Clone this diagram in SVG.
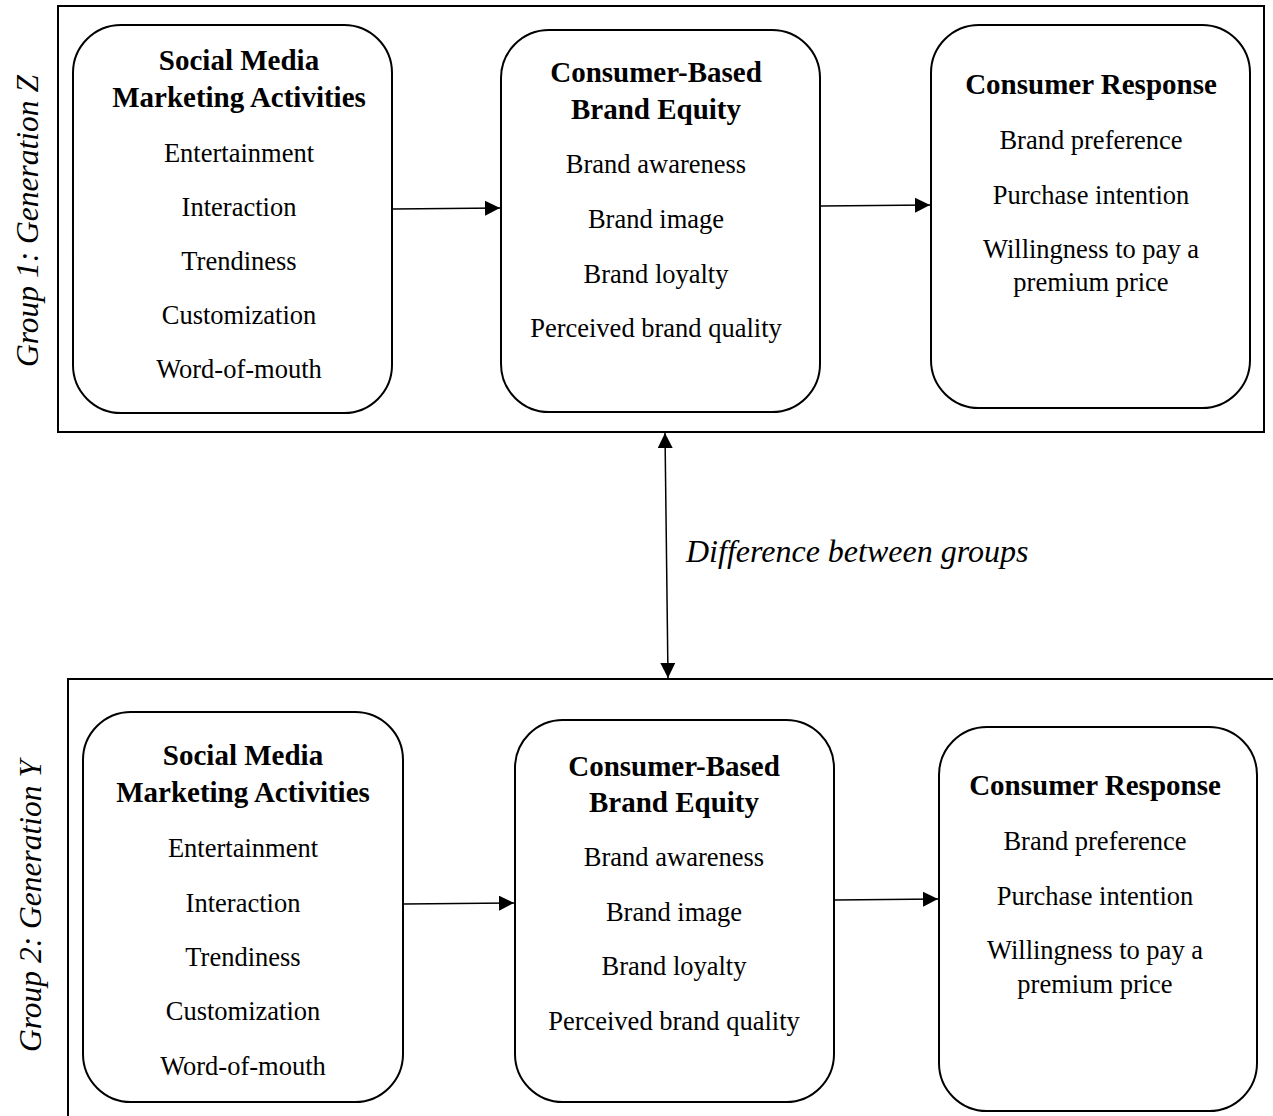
<svg xmlns="http://www.w3.org/2000/svg" width="1273" height="1116" viewBox="0 0 1273 1116">
<style>
  .frame { fill: none; stroke: #000; stroke-width: 2; }
  .box { fill: #fff; stroke: #000; stroke-width: 2; }
  .conn { fill: none; stroke: #000; stroke-width: 1.5; }
  text { font-family: "Liberation Serif", "Times New Roman", serif; fill: #000; text-anchor: middle; }
  .h { font-size: 29px; font-weight: bold; }
  .t { font-size: 26.5px; }
  .side { font-size: 31.5px; font-style: italic; }
  .lbl { font-size: 32px; font-style: italic; text-anchor: start; }
</style>
<defs>
  <marker id="ah" markerUnits="userSpaceOnUse" markerWidth="16" markerHeight="16" refX="15" refY="7.5" orient="auto-start-reverse">
    <path d="M0,0 L15,7.5 L0,15 z" fill="#000"/>
  </marker>
</defs>
<rect fill="#fff" x="0" y="0" width="1273" height="1116"/>

<g id="group1">
  <rect class="frame" x="58" y="6" width="1206" height="426"/>
  <text class="side" transform="translate(38,221) rotate(-90)">Group 1: Generation Z</text>
</g>
<g id="group2">
  <path class="frame" d="M1273,679 H68 V1116"/>
  <text class="side" transform="translate(41,906) rotate(-90)">Group 2: Generation Y</text>
</g>

<g id="smma1">
  <rect class="box" x="73" y="25" width="319" height="388" rx="48" ry="48"/>
  <text class="h" x="239" y="70">Social Media</text>
  <text class="h" x="239" y="107">Marketing Activities</text>
  <text class="t" x="239" y="162">Entertainment</text>
  <text class="t" x="239" y="216">Interaction</text>
  <text class="t" x="239" y="270">Trendiness</text>
  <text class="t" x="239" y="324">Customization</text>
  <text class="t" x="239" y="378">Word-of-mouth</text>
</g>
<g id="cbbe1">
  <rect class="box" x="501" y="30" width="319" height="382" rx="48" ry="48"/>
  <text class="h" x="656" y="82">Consumer-Based</text>
  <text class="h" x="656" y="119">Brand Equity</text>
  <text class="t" x="656" y="173">Brand awareness</text>
  <text class="t" x="656" y="228">Brand image</text>
  <text class="t" x="656" y="283">Brand loyalty</text>
  <text class="t" x="656" y="337">Perceived brand quality</text>
</g>
<g id="cr1">
  <rect class="box" x="931" y="25" width="319" height="383" rx="48" ry="48"/>
  <text class="h" x="1091" y="94">Consumer Response</text>
  <text class="t" x="1091" y="149">Brand preference</text>
  <text class="t" x="1091" y="204">Purchase intention</text>
  <text class="t" x="1091" y="258">Willingness to pay a</text>
  <text class="t" x="1091" y="291">premium price</text>
</g>

<g id="smma2">
  <rect class="box" x="83" y="712" width="320" height="390" rx="48" ry="48"/>
  <text class="h" x="243" y="765">Social Media</text>
  <text class="h" x="243" y="802">Marketing Activities</text>
  <text class="t" x="243" y="857">Entertainment</text>
  <text class="t" x="243" y="912">Interaction</text>
  <text class="t" x="243" y="966">Trendiness</text>
  <text class="t" x="243" y="1020">Customization</text>
  <text class="t" x="243" y="1075">Word-of-mouth</text>
</g>
<g id="cbbe2">
  <rect class="box" x="515" y="720" width="319" height="382" rx="48" ry="48"/>
  <text class="h" x="674" y="776">Consumer-Based</text>
  <text class="h" x="674" y="812">Brand Equity</text>
  <text class="t" x="674" y="866">Brand awareness</text>
  <text class="t" x="674" y="921">Brand image</text>
  <text class="t" x="674" y="975">Brand loyalty</text>
  <text class="t" x="674" y="1030">Perceived brand quality</text>
</g>
<g id="cr2">
  <rect class="box" x="939" y="727" width="318" height="384" rx="48" ry="48"/>
  <text class="h" x="1095" y="795">Consumer Response</text>
  <text class="t" x="1095" y="850">Brand preference</text>
  <text class="t" x="1095" y="905">Purchase intention</text>
  <text class="t" x="1095" y="959">Willingness to pay a</text>
  <text class="t" x="1095" y="993">premium price</text>
</g>

<g id="connectors">
  <line class="conn" x1="393" y1="209" x2="500" y2="208" marker-end="url(#ah)"/>
  <line class="conn" x1="821" y1="206" x2="930" y2="205" marker-end="url(#ah)"/>
  <line class="conn" x1="404" y1="904" x2="514" y2="903" marker-end="url(#ah)"/>
  <line class="conn" x1="835" y1="900" x2="938" y2="899" marker-end="url(#ah)"/>
  <line class="conn" x1="665" y1="433" x2="668" y2="678" marker-start="url(#ah)" marker-end="url(#ah)"/>
  <text class="lbl" x="686" y="562">Difference between groups</text>
</g>
</svg>
